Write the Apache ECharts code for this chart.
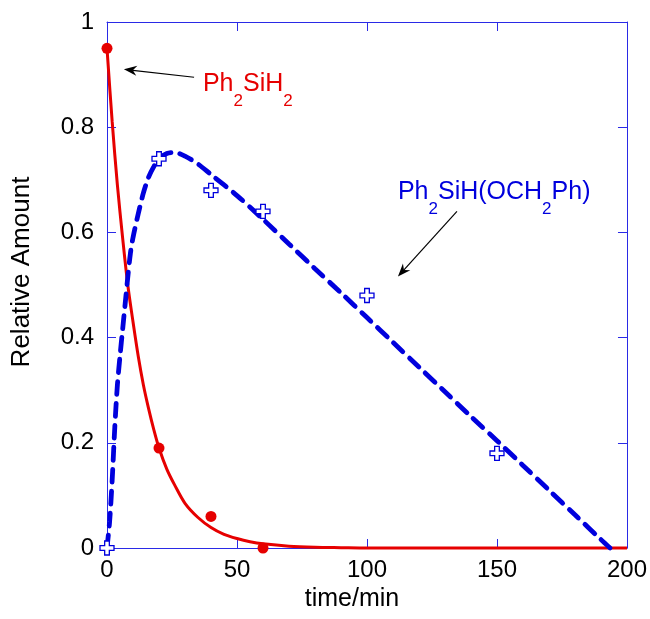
<!DOCTYPE html>
<html>
<head>
<meta charset="utf-8">
<script src="https://cdn.jsdelivr.net/npm/echarts@6/dist/echarts.min.js"></script>
<style>
html,body{margin:0;padding:0;background:#fff;}
#chart{width:650px;height:619px;}
</style>
</head>
<body>
<div id="chart"></div>
<script>
// ---- data ----
const xTicks = [0, 50, 100, 150, 200];
const yTicks = [0, 0.2, 0.4, 0.6, 0.8, 1];

// Ph2SiH2 measured points
const silaneT = [0, 20, 40, 60];
const silaneY = [0.95, 0.19, 0.06, 0.0];

// Ph2SiH(OCH2Ph) measured points
const etherT = [0, 20, 40, 60, 100, 150];
const etherY = [0.0, 0.74, 0.68, 0.64, 0.48, 0.18];

// fitted curve for Ph2SiH2
const silaneFitT = [0, 2, 4, 6, 8, 10, 12, 14, 16, 18, 20, 23, 26, 30, 35, 40, 45, 50, 55, 60, 70, 80, 90, 100, 150, 200];
const silaneFitY = [0.95, 0.81, 0.69, 0.59, 0.50, 0.43, 0.365, 0.31, 0.265, 0.225, 0.19, 0.15, 0.12, 0.085, 0.058, 0.039, 0.026, 0.018, 0.012, 0.008, 0.0035, 0.0015, 0.0007, 0, 0, 0];

// fitted curve for Ph2SiH(OCH2Ph)
const etherFitT = [0, 1, 2, 3, 4, 5, 6, 7, 8, 9, 10, 12, 14, 16, 18, 20, 23, 26, 30, 35, 40, 50, 60, 70, 80, 90, 100, 110, 120, 130, 140, 150, 160, 170, 180, 190, 193.5];
const etherFitY = [0, 0.05, 0.13, 0.23, 0.31, 0.365, 0.415, 0.465, 0.515, 0.56, 0.59, 0.635, 0.675, 0.705, 0.725, 0.74, 0.75, 0.752, 0.745, 0.73, 0.71, 0.67, 0.625, 0.578, 0.531, 0.485, 0.438, 0.391, 0.344, 0.297, 0.25, 0.204, 0.157, 0.11, 0.063, 0.016, 0];

const xName = 'time/min';
const yName = 'Relative Amount';

// annotation texts
const silaneLabel = ['Ph', '2', 'SiH', '2'];
const etherLabel = ['Ph', '2', 'SiH(OCH', '2', 'Ph)'];

// ---- styling / layout ----
const RED = '#e60000';
const BLUE = '#0000dd';
const FRAME = '#2a2ae6';
const FONT = '"Liberation Sans", Arial, Helvetica, sans-serif';

const zip = (a, b) => a.map((v, i) => [v, b[i]]);
const plusPath = 'path://M4,0H8V4H12V8H8V12H4V8H0V4H4Z';

const chart = echarts.init(document.getElementById('chart'), null, {renderer: 'canvas'});

const xMin = xTicks[0], xMax = xTicks[xTicks.length - 1];
const xInt = xTicks[1] - xTicks[0];
const yMin = yTicks[0], yMax = yTicks[yTicks.length - 1];
const yInt = yTicks[1] - yTicks[0];

const axisCommon = {
  axisLine: {show: true, onZero: false, lineStyle: {color: FRAME, width: 1}},
  axisTick: {show: true, inside: true, length: 9, lineStyle: {color: FRAME, width: 1}},
  splitLine: {show: false}
};

chart.setOption({
  animation: false,
  backgroundColor: '#fff',
  grid: {left: 107, right: 23, top: 22, bottom: 71, containLabel: false},
  xAxis: [
    Object.assign({}, axisCommon, {
      type: 'value', min: xMin, max: xMax, interval: xInt, position: 'bottom',
      name: xName, nameLocation: 'middle', nameGap: 38,
      nameTextStyle: {fontSize: 25, color: '#000', fontFamily: FONT, padding: [0, 30, 0, 0]},
      axisLabel: {fontSize: 24, color: '#000', fontFamily: FONT, margin: 10}
    }),
    Object.assign({}, axisCommon, {
      type: 'value', min: xMin, max: xMax, interval: xInt, position: 'top',
      axisLabel: {show: false}
    })
  ],
  yAxis: [
    Object.assign({}, axisCommon, {
      type: 'value', min: yMin, max: yMax, interval: yInt, position: 'left',
      name: yName, nameLocation: 'middle', nameGap: 72,
      nameTextStyle: {fontSize: 26, color: '#000', fontFamily: FONT, padding: [0, 0, 0, 26]},
      axisLabel: {fontSize: 24, color: '#000', fontFamily: FONT, margin: 13}
    }),
    Object.assign({}, axisCommon, {
      type: 'value', min: yMin, max: yMax, interval: yInt, position: 'right',
      axisLabel: {show: false}
    })
  ],
  series: [
    {
      type: 'line', name: 'silaneFit', data: zip(silaneFitT, silaneFitY),
      showSymbol: false, symbol: 'none', smooth: 0.3, clip: false,
      lineStyle: {color: RED, width: 3}, z: 2
    },
    {
      type: 'line', name: 'etherFit', data: zip(etherFitT, etherFitY),
      showSymbol: false, symbol: 'none', smooth: 0.3, clip: false,
      lineStyle: {color: BLUE, width: 4.8, type: [13, 9], cap: 'round'}, z: 3
    },
    {
      type: 'scatter', name: 'silane', data: zip(silaneT, silaneY),
      symbol: 'circle', symbolSize: 11, clip: false,
      itemStyle: {color: RED, opacity: 1}, z: 4
    },
    {
      type: 'scatter', name: 'ether', data: zip(etherT, etherY),
      symbol: plusPath, symbolSize: 14, clip: false,
      itemStyle: {color: '#fff', borderColor: BLUE, borderWidth: 1.3, opacity: 1}, z: 5
    }
  ]
});

// ---- annotations (anchored in data coordinates) ----
const annotations = [
  {parts: silaneLabel, color: RED, textAt: [36.9, 0.905], arrowFrom: [33.5, 0.895], arrowTo: [6.5, 0.91]},
  {parts: etherLabel, color: BLUE, textAt: [111.9, 0.700], arrowFrom: [134.6, 0.64], arrowTo: [111.9, 0.516]}
];

function richText(parts) {
  return parts.map((p, i) => (i % 2 === 0 ? '{m|' + p + '}' : '{s|' + p + '}')).join('');
}

const graphics = [];
annotations.forEach(a => {
  const tp = chart.convertToPixel({gridIndex: 0}, a.textAt);
  graphics.push({
    type: 'text', x: tp[0], y: tp[1], z: 10,
    style: {
      text: richText(a.parts), fill: a.color, font: '25px ' + FONT,
      verticalAlign: 'top', align: 'left',
      rich: {
        m: {fontSize: 25, fontFamily: FONT, fill: a.color, lineHeight: 25, verticalAlign: 'top'},
        s: {fontSize: 17, fontFamily: FONT, fill: a.color, lineHeight: 17, verticalAlign: 'top', padding: [21, 0, 0, 0]}
      }
    }
  });
  const p0 = chart.convertToPixel({gridIndex: 0}, a.arrowFrom);
  const p1 = chart.convertToPixel({gridIndex: 0}, a.arrowTo);
  const dx = p1[0] - p0[0], dy = p1[1] - p0[1];
  const len = Math.sqrt(dx * dx + dy * dy);
  const ux = dx / len, uy = dy / len;
  const nx = -uy, ny = ux;
  const L = 13, W = 5, N = 9;
  const back = [p1[0] - ux * L, p1[1] - uy * L];
  const notch = [p1[0] - ux * N, p1[1] - uy * N];
  graphics.push({
    type: 'line', z: 10,
    shape: {x1: p0[0], y1: p0[1], x2: notch[0], y2: notch[1]},
    style: {stroke: '#000', lineWidth: 1.2}
  });
  graphics.push({
    type: 'polygon', z: 10,
    shape: {points: [
      [p1[0], p1[1]],
      [back[0] + nx * W, back[1] + ny * W],
      [notch[0], notch[1]],
      [back[0] - nx * W, back[1] - ny * W]
    ]},
    style: {fill: '#000'}
  });
});
chart.setOption({graphic: graphics});
</script>
</body>
</html>
